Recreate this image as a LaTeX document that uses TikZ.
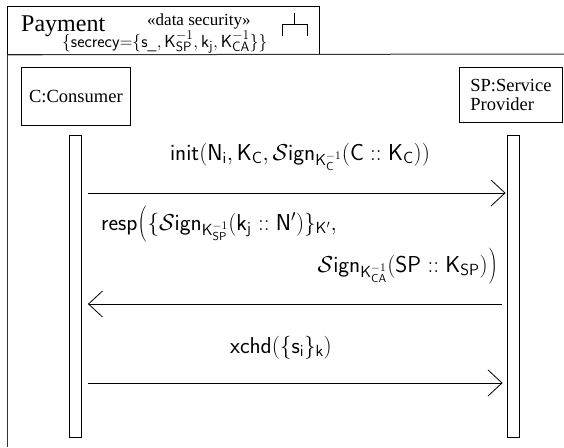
\RequirePackage{fix-cm}
\documentclass[tikz,border=0pt]{standalone}
\usepackage[no-math]{fontspec}
\setmainfont{Liberation Serif}
\usetikzlibrary{arrows.meta,calc}

% larger script sizes for the tag line in the header
\DeclareMathSizes{17.5}{17.5}{13.5}{11}

% tall delimiters that open on one line and close on the next
\newcommand{\tallopen}{\mathopen{\nulldelimiterspace=0pt\left(\rule[-11pt]{0pt}{36pt}\right.}}
\newcommand{\tallclose}{\mathclose{\nulldelimiterspace=0pt\left.\rule[-11pt]{0pt}{36pt}\right)}}

\begin{document}
\begin{tikzpicture}[x=1pt,y=-1pt,
  frame/.style={line width=1pt, draw=black!80},
  box/.style={draw, line width=0.8pt},
  life/.style={draw, line width=0.8pt, minimum width=12pt, minimum height=302pt, inner sep=0pt, anchor=north},
  msg/.style={line width=0.8pt, -{Straight Barb[length=14pt,width=26pt,line width=0.8pt]}},
  lbl/.style={font=\fontsize{23}{27}\selectfont, inner sep=0pt},
  objname/.style={font=\fontsize{18.5}{18.5}\selectfont},
]
\useasboundingbox (0,0) rectangle (564,447);

% package header
\node[box, anchor=north west, minimum width=312pt, minimum height=48pt, inner sep=0pt] (hdr) at (7,6) {};
\node[anchor=base west, font=\fontsize{24}{28}\selectfont, inner sep=0pt] (pay) at (21,31) {Payment};
\node[anchor=base west, font=\fontsize{17}{20}\selectfont, inner sep=0pt] (st) at (147,25) {«data security»};
\node[anchor=base west, font=\fontsize{17.5}{20}\selectfont, inner sep=0pt] (sec) at (62,47)
  {$\{\mathsf{secrecy}{=}\{\mathsf{s}_{\_},\mathsf{K}_{\mathsf{SP}}^{-1},\mathsf{k}_{\mathsf{j}},\mathsf{K}_{\mathsf{CA}}^{-1}\}\}$};
% subsystem fork symbol
\draw[line width=0.8pt] (294,13) -- (294,24) (282,36) -- (282,24) -- (307,24) -- (307,36);

% diagram frame
\draw[frame] (hdr.south west) -- (7,447);
\draw[frame] (hdr.south west) -- (564,54);

% objects
\node[box, objname, anchor=north west, minimum width=109pt, minimum height=58pt] (c) at (21,67) {C:Consumer};
\node[box, objname, anchor=north west, minimum width=103pt, minimum height=55pt, align=left] (sp) at (459,67) {SP:Service\\Provider};

% lifelines
\node[life] (cl) at (75.5,135) {};
\node[life] (sl) at (513,135) {};

% messages
\coordinate (y1) at (0,193);
\coordinate (y2) at (0,304);
\coordinate (y3) at (0,383);
\draw[msg] ($(cl.east|-y1)+(6,0)$) -- ($(sl.west|-y1)+(-1,0)$);
\draw[msg] ($(sl.west|-y2)+(-5,0)$) -- ($(cl.east|-y2)+(6,0)$);
\draw[msg] ($(cl.east|-y3)+(6,0)$) -- ($(sl.west|-y3)+(-4,0)$);

\node[lbl, anchor=base] (l1) at (300,160)
  {$\mathsf{init}(\mathsf{N_i},\mathsf{K_C},\mathcal{S}\mathsf{ign}_{\mathsf{K}_{\mathsf{C}}^{-1}}(\mathsf{C}::\mathsf{K_C}))$};
\node[lbl, anchor=base west] (l2a) at (101,230)
  {$\mathsf{resp}\tallopen\{\mathcal{S}\mathsf{ign}_{\mathsf{K}_{\mathsf{SP}}^{-1}}(\mathsf{k_j}::\mathsf{N}')\}_{\mathsf{K}'},$};
\node[lbl, anchor=base east] (l2b) at (498,272)
  {$\mathcal{S}\mathsf{ign}_{\mathsf{K}_{\mathsf{CA}}^{-1}}(\mathsf{SP}::\mathsf{K_{SP}})\tallclose$};
\node[lbl, anchor=base] (l3) at (281,353)
  {$\mathsf{xchd}(\{\mathsf{s_i}\}_{\mathsf{k}})$};
\end{tikzpicture}
\end{document}
